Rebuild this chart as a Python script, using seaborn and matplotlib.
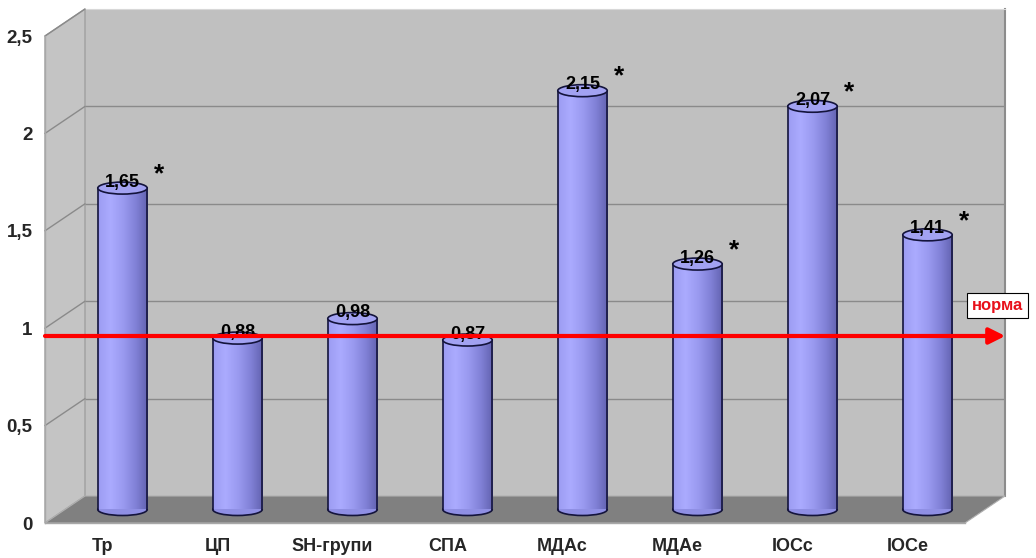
import matplotlib
matplotlib.use("Agg")
import matplotlib.pyplot as plt
import numpy as np
import seaborn as sns
from matplotlib.colors import LinearSegmentedColormap
from matplotlib.lines import Line2D
from matplotlib.patches import Ellipse, Polygon

categories = ["Тр", "ЦП", "SH-групи", "СПА", "МДАс", "МДАе", "ІОСс", "ІОСе"]
values = [1.65, 0.88, 0.98, 0.87, 2.15, 1.26, 2.07, 1.41]
significant = [True, False, False, False, True, True, True, True]
y_ticks = [0, 0.5, 1, 1.5, 2, 2.5]
y_tick_labels = ["0", "0,5", "1", "1,5", "2", "2,5"]
norm_level = 0.96
norm_label = "норма"

W, H = 1036, 558
DEPTH = (40, 27)          # back wall offset in px (right, up)
PLOT_W, PLOT_H = 920, 487
FRONT_LEFT, FRONT_BOTTOM = 45, 35

sns.set_style("white")
plt.rcParams["font.family"] = ["Liberation Sans", "DejaVu Sans"]
plt.rcParams["font.weight"] = "bold"

fig = plt.figure(figsize=(W / 100, H / 100), dpi=100)


def rect(dx, dy):
    return [(FRONT_LEFT + dx) / W, (FRONT_BOTTOM + dy) / H, PLOT_W / W, PLOT_H / H]


def px(x, y):
    # pixel coords (from top-left) -> figure fraction
    return x / W, 1 - y / H


xlim = (-0.5, len(categories) - 0.5)
ylim = (0, 2.5)

# back wall
ax_back = fig.add_axes(rect(*DEPTH), zorder=0)
ax_back.set_facecolor("#c0c0c0")
ax_back.set_xlim(xlim)
ax_back.set_ylim(ylim)
for t in y_ticks[1:-1]:
    ax_back.axhline(t, color="#8a8a8a", lw=1)
ax_back.set_xticks([])
ax_back.set_yticks([])
for s in ["left", "bottom"]:
    ax_back.spines[s].set_visible(False)
ax_back.spines["top"].set_color("#d8d8d8")
ax_back.spines["right"].set_color("#8c8c8c")
ax_back.spines["right"].set_linewidth(1.5)

# walls in pixel space
fl, fr = FRONT_LEFT, FRONT_LEFT + PLOT_W
fb, ft = H - FRONT_BOTTOM, H - FRONT_BOTTOM - PLOT_H
dx, dy = DEPTH
left_wall = Polygon([px(fl, ft), px(fl + dx, ft - dy), px(fl + dx, fb - dy), px(fl, fb)],
                    closed=True, transform=fig.transFigure, facecolor="#c4c4c4",
                    edgecolor="#a0a0a0", lw=1, zorder=0.5)
fig.add_artist(left_wall)
for t in y_ticks[1:]:
    yy = fb - t * PLOT_H / 2.5
    (x1, y1), (x2, y2) = px(fl, yy), px(fl + dx, yy - dy)
    fig.add_artist(Line2D([x1, x2], [y1, y2], transform=fig.transFigure,
                          color="#8a8a8a", lw=1, zorder=0.6))
floor = Polygon([px(fl, fb), px(fr, fb), px(fr + dx, fb - dy), px(fl + dx, fb - dy)],
                closed=True, transform=fig.transFigure, facecolor="#808080",
                edgecolor="#b0b0b0", lw=0.8, zorder=0.7)
fig.add_artist(floor)

# bars at mid depth
ax_bars = fig.add_axes(rect(dx / 2, dy / 2), zorder=1)
sns.barplot(x=categories, y=values, ax=ax_bars, width=0.43, color="#9999ee",
            linewidth=0, saturation=1)
ax_bars.set_xlim(xlim)
ax_bars.set_ylim(ylim)
ax_bars.axis("off")

cmap = LinearSegmentedColormap.from_list(
    "cyl", ["#9c9cf2", "#ababff", "#9a9af0", "#8282d8", "#6262b0"])
grad = np.linspace(0, 1, 256).reshape(1, -1)
eh = 12 / (PLOT_H / 2.5)
edge = "#14143c"

for p, v, star in zip(ax_bars.patches, values, significant):
    x0, w, h = p.get_x(), p.get_width(), p.get_height()
    cx = x0 + w / 2
    ax_bars.add_patch(Ellipse((cx, 0), w, eh, facecolor="#8f8fe4", edgecolor=edge,
                              lw=1.2, zorder=2, clip_on=False))
    im = ax_bars.imshow(grad, cmap=cmap, extent=(x0, x0 + w, 0, h),
                        aspect="auto", zorder=3)
    im.set_clip_path(p)
    ax_bars.plot([x0, x0], [0, h], color=edge, lw=1.2, zorder=3.5)
    ax_bars.plot([x0 + w, x0 + w], [0, h], color=edge, lw=1.2, zorder=3.5)
    ax_bars.add_patch(Ellipse((cx, h), w, eh, facecolor="#a2a2f2",
                              edgecolor=edge, lw=1.2, zorder=4))
    ax_bars.text(cx, h + 0.03, f"{v:.2f}".replace(".", ","), ha="center",
                 va="center", fontsize=13, fontweight="bold", color="black",
                 zorder=5)
    if star:
        ax_bars.annotate("*", (cx, h), xytext=(26, 10), textcoords="offset points",
                         ha="center", va="center", fontsize=19,
                         fontweight="bold", color="black", zorder=5)
ax_bars.set_xlim(xlim)
ax_bars.set_ylim(ylim)

# front axis
ax = fig.add_axes(rect(0, 0), zorder=2)
ax.set_facecolor("none")
ax.set_xlim(xlim)
ax.set_ylim(ylim)
ax.set_yticks(y_ticks)
ax.set_yticklabels(y_tick_labels)
ax.set_xticks(range(len(categories)))
ax.set_xticklabels(categories)
ax.set_xticks(np.arange(-0.5, len(categories)), minor=True)
ax.tick_params(axis="x", which="major", length=0, pad=11, labelsize=13)
ax.tick_params(axis="x", which="minor", length=9, color="#b0b0b0", width=1,
               direction="out")
ax.tick_params(axis="y", length=5, color="#9a9a9a", direction="out",
               labelsize=13.5, pad=4)
for lab in ax.get_xticklabels() + ax.get_yticklabels():
    lab.set_fontweight("bold")
for s in ["top", "right"]:
    ax.spines[s].set_visible(False)
for s in ["left", "bottom"]:
    ax.spines[s].set_color("#a8a8a8")
    ax.spines[s].set_linewidth(1)

ax.annotate("", xy=(7.85, norm_level), xytext=(-0.5, norm_level),
            arrowprops=dict(arrowstyle="-|>", color="#ff0000", lw=3,
                            mutation_scale=24, shrinkA=0, shrinkB=0),
            annotation_clip=False)
ax.text(7.78, 1.115, norm_label, ha="center", va="center", fontsize=12,
        fontweight="bold", color="#e8101a", clip_on=False,
        bbox=dict(boxstyle="square,pad=0.3", facecolor="white",
                  edgecolor="black", lw=0.8))

fig.savefig("out.png", dpi=100, facecolor="white")
